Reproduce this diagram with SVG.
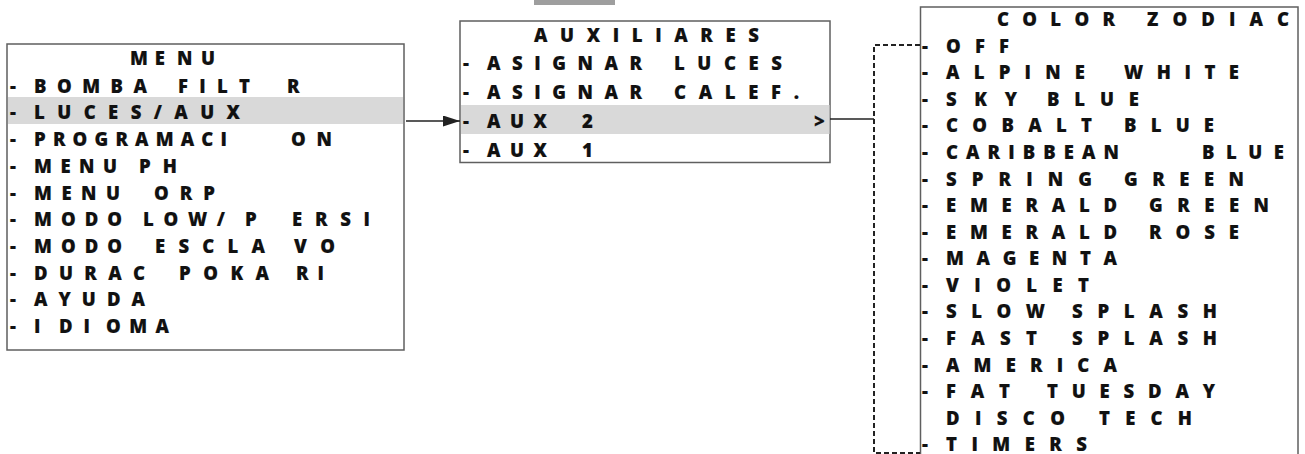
<svg xmlns="http://www.w3.org/2000/svg" width="1305" height="454" viewBox="0 0 1305 454">
<defs>
<style>
.box{fill:#fff;stroke:#5f5f5f;stroke-width:1.5}
.hl{fill:#d9d9d9}
.t{font-family:"Open Sans","Noto Sans","DejaVu Sans",sans-serif;font-weight:800;font-size:18.5px;fill:#111;stroke:#111;stroke-width:0.15}
.ln{stroke:#222;stroke-width:1.5;fill:none}
.dash{stroke:#222;stroke-width:2;fill:none;stroke-dasharray:5 3}
</style>
<marker id="ah" markerUnits="userSpaceOnUse" markerWidth="17" markerHeight="11" refX="17" refY="5.5" orient="auto">
<path d="M0,0 L17,5.5 L0,11 z" fill="#222"/>
</marker>
</defs>
<rect x="534" y="0" width="81" height="5" fill="#9e9e9e"/>
<g id="menu">
<rect class="box" x="7" y="44" width="397" height="306"/>
<rect class="hl" x="8" y="97" width="395" height="27"/>
<text class="t" y="65"><tspan x="130" textLength="35" lengthAdjust="spacing">ME</tspan> <tspan x="177" textLength="38" lengthAdjust="spacing">NU</tspan></text>
<text class="t" y="93"><tspan x="10">-</tspan> <tspan x="34" textLength="113" lengthAdjust="spacing">BOMBA</tspan> <tspan x="178" textLength="72" lengthAdjust="spacing">FILT</tspan> <tspan x="287">R</tspan></text>
<text class="t" y="119"><tspan x="10">-</tspan> <tspan x="34" textLength="206" lengthAdjust="spacing">LUCES/AUX</tspan></text>
<text class="t" y="146"><tspan x="10">-</tspan> <tspan x="34" textLength="193" lengthAdjust="spacing">PROGRAMACI</tspan> <tspan x="291" textLength="41" lengthAdjust="spacing">ON</tspan></text>
<text class="t" y="173"><tspan x="10">-</tspan> <tspan x="34" textLength="83" lengthAdjust="spacing">MENU</tspan> <tspan x="139" textLength="38" lengthAdjust="spacing">PH</tspan></text>
<text class="t" y="200"><tspan x="10">-</tspan> <tspan x="34" textLength="86" lengthAdjust="spacing">MENU</tspan> <tspan x="154" textLength="61" lengthAdjust="spacing">ORP</tspan></text>
<text class="t" y="226"><tspan x="10">-</tspan> <tspan x="34" textLength="88" lengthAdjust="spacing">MODO</tspan> <tspan x="143" textLength="82" lengthAdjust="spacing">LOW/</tspan> <tspan x="245">P</tspan> <tspan x="292" textLength="78" lengthAdjust="spacing">ERSI</tspan></text>
<text class="t" y="253"><tspan x="10">-</tspan> <tspan x="34" textLength="88" lengthAdjust="spacing">MODO</tspan> <tspan x="155" textLength="110" lengthAdjust="spacing">ESCLA</tspan> <tspan x="294" textLength="41" lengthAdjust="spacing">VO</tspan></text>
<text class="t" y="280"><tspan x="10">-</tspan> <tspan x="34" textLength="111" lengthAdjust="spacing">DURAC</tspan> <tspan x="179" textLength="90" lengthAdjust="spacing">POKA</tspan> <tspan x="296" textLength="28" lengthAdjust="spacing">RI</tspan></text>
<text class="t" y="306"><tspan x="10">-</tspan> <tspan x="34" textLength="111" lengthAdjust="spacing">AYUDA</tspan></text>
<text class="t" y="333"><tspan x="10">-</tspan> <tspan x="34">I</tspan> <tspan x="59" textLength="31" lengthAdjust="spacing">DI</tspan> <tspan x="106" textLength="63" lengthAdjust="spacing">OMA</tspan></text>
</g>
<g id="auxiliares">
<rect class="box" x="460" y="21" width="370" height="141.5"/>
<rect class="hl" x="461" y="105" width="368.5" height="29"/>
<text class="t" y="42"><tspan x="534" textLength="225" lengthAdjust="spacing">AUXILIARES</tspan></text>
<text class="t" y="70"><tspan x="463">-</tspan> <tspan x="487" textLength="155" lengthAdjust="spacing">ASIGNAR</tspan> <tspan x="674" textLength="108" lengthAdjust="spacing">LUCES</tspan></text>
<text class="t" y="99"><tspan x="463">-</tspan> <tspan x="487" textLength="155" lengthAdjust="spacing">ASIGNAR</tspan> <tspan x="674" textLength="125" lengthAdjust="spacing">CALEF.</tspan></text>
<text class="t" y="128"><tspan x="463">-</tspan> <tspan x="487" textLength="60" lengthAdjust="spacing">AUX</tspan> <tspan x="582">2</tspan> <tspan x="814">&gt;</tspan></text>
<text class="t" y="157"><tspan x="463">-</tspan> <tspan x="487" textLength="60" lengthAdjust="spacing">AUX</tspan> <tspan x="582">1</tspan></text>
</g>
<g id="color-zodiac">
<rect class="box" x="920.5" y="7" width="377.5" height="470"/>
<text class="t" y="26"><tspan x="997" textLength="118" lengthAdjust="spacing">COLOR</tspan> <tspan x="1147" textLength="142" lengthAdjust="spacing">ZODIAC</tspan></text>
<text class="t" y="53"><tspan x="922">-</tspan> <tspan x="946" textLength="63" lengthAdjust="spacing">OFF</tspan></text>
<text class="t" y="79"><tspan x="922">-</tspan> <tspan x="946" textLength="139" lengthAdjust="spacing">ALPINE</tspan> <tspan x="1124" textLength="115" lengthAdjust="spacing">WHITE</tspan></text>
<text class="t" y="105.5"><tspan x="922">-</tspan> <tspan x="946" textLength="71" lengthAdjust="spacing">SKY</tspan> <tspan x="1047" textLength="92" lengthAdjust="spacing">BLUE</tspan></text>
<text class="t" y="132"><tspan x="922">-</tspan> <tspan x="946" textLength="146" lengthAdjust="spacing">COBALT</tspan> <tspan x="1124" textLength="90" lengthAdjust="spacing">BLUE</tspan></text>
<text class="t" y="158.5"><tspan x="922">-</tspan> <tspan x="946" textLength="173" lengthAdjust="spacing">CARIBBEAN</tspan> <tspan x="1202" textLength="82" lengthAdjust="spacing">BLUE</tspan></text>
<text class="t" y="185.5"><tspan x="922">-</tspan> <tspan x="946" textLength="146" lengthAdjust="spacing">SPRING</tspan> <tspan x="1124" textLength="120" lengthAdjust="spacing">GREEN</tspan></text>
<text class="t" y="212"><tspan x="922">-</tspan> <tspan x="946" textLength="171" lengthAdjust="spacing">EMERALD</tspan> <tspan x="1149" textLength="120" lengthAdjust="spacing">GREEN</tspan></text>
<text class="t" y="239"><tspan x="922">-</tspan> <tspan x="946" textLength="171" lengthAdjust="spacing">EMERALD</tspan> <tspan x="1149" textLength="90" lengthAdjust="spacing">ROSE</tspan></text>
<text class="t" y="265"><tspan x="922">-</tspan> <tspan x="946" textLength="171" lengthAdjust="spacing">MAGENTA</tspan></text>
<text class="t" y="292"><tspan x="922">-</tspan> <tspan x="946" textLength="143" lengthAdjust="spacing">VIOLET</tspan></text>
<text class="t" y="318"><tspan x="922">-</tspan> <tspan x="946" textLength="99" lengthAdjust="spacing">SLOW</tspan> <tspan x="1072" textLength="145" lengthAdjust="spacing">SPLASH</tspan></text>
<text class="t" y="345"><tspan x="922">-</tspan> <tspan x="946" textLength="91" lengthAdjust="spacing">FAST</tspan> <tspan x="1072" textLength="145" lengthAdjust="spacing">SPLASH</tspan></text>
<text class="t" y="372"><tspan x="922">-</tspan> <tspan x="946" textLength="171" lengthAdjust="spacing">AMERICA</tspan></text>
<text class="t" y="398"><tspan x="922">-</tspan> <tspan x="946" textLength="64" lengthAdjust="spacing">FAT</tspan> <tspan x="1047" textLength="168" lengthAdjust="spacing">TUESDAY</tspan></text>
<text class="t" y="425"><tspan x="946" textLength="119" lengthAdjust="spacing">DISCO</tspan> <tspan x="1099" textLength="93" lengthAdjust="spacing">TECH</tspan></text>
<text class="t" y="451"><tspan x="922">-</tspan> <tspan x="946" textLength="141" lengthAdjust="spacing">TIMERS</tspan></text>
</g>
<g id="connectors">
<line class="ln" x1="406" y1="121" x2="460" y2="121" marker-end="url(#ah)"/>
<line class="ln" x1="830" y1="119" x2="874" y2="119"/>
<path class="dash" d="M920,45 H874 V453 H920"/>
</g>
</svg>
